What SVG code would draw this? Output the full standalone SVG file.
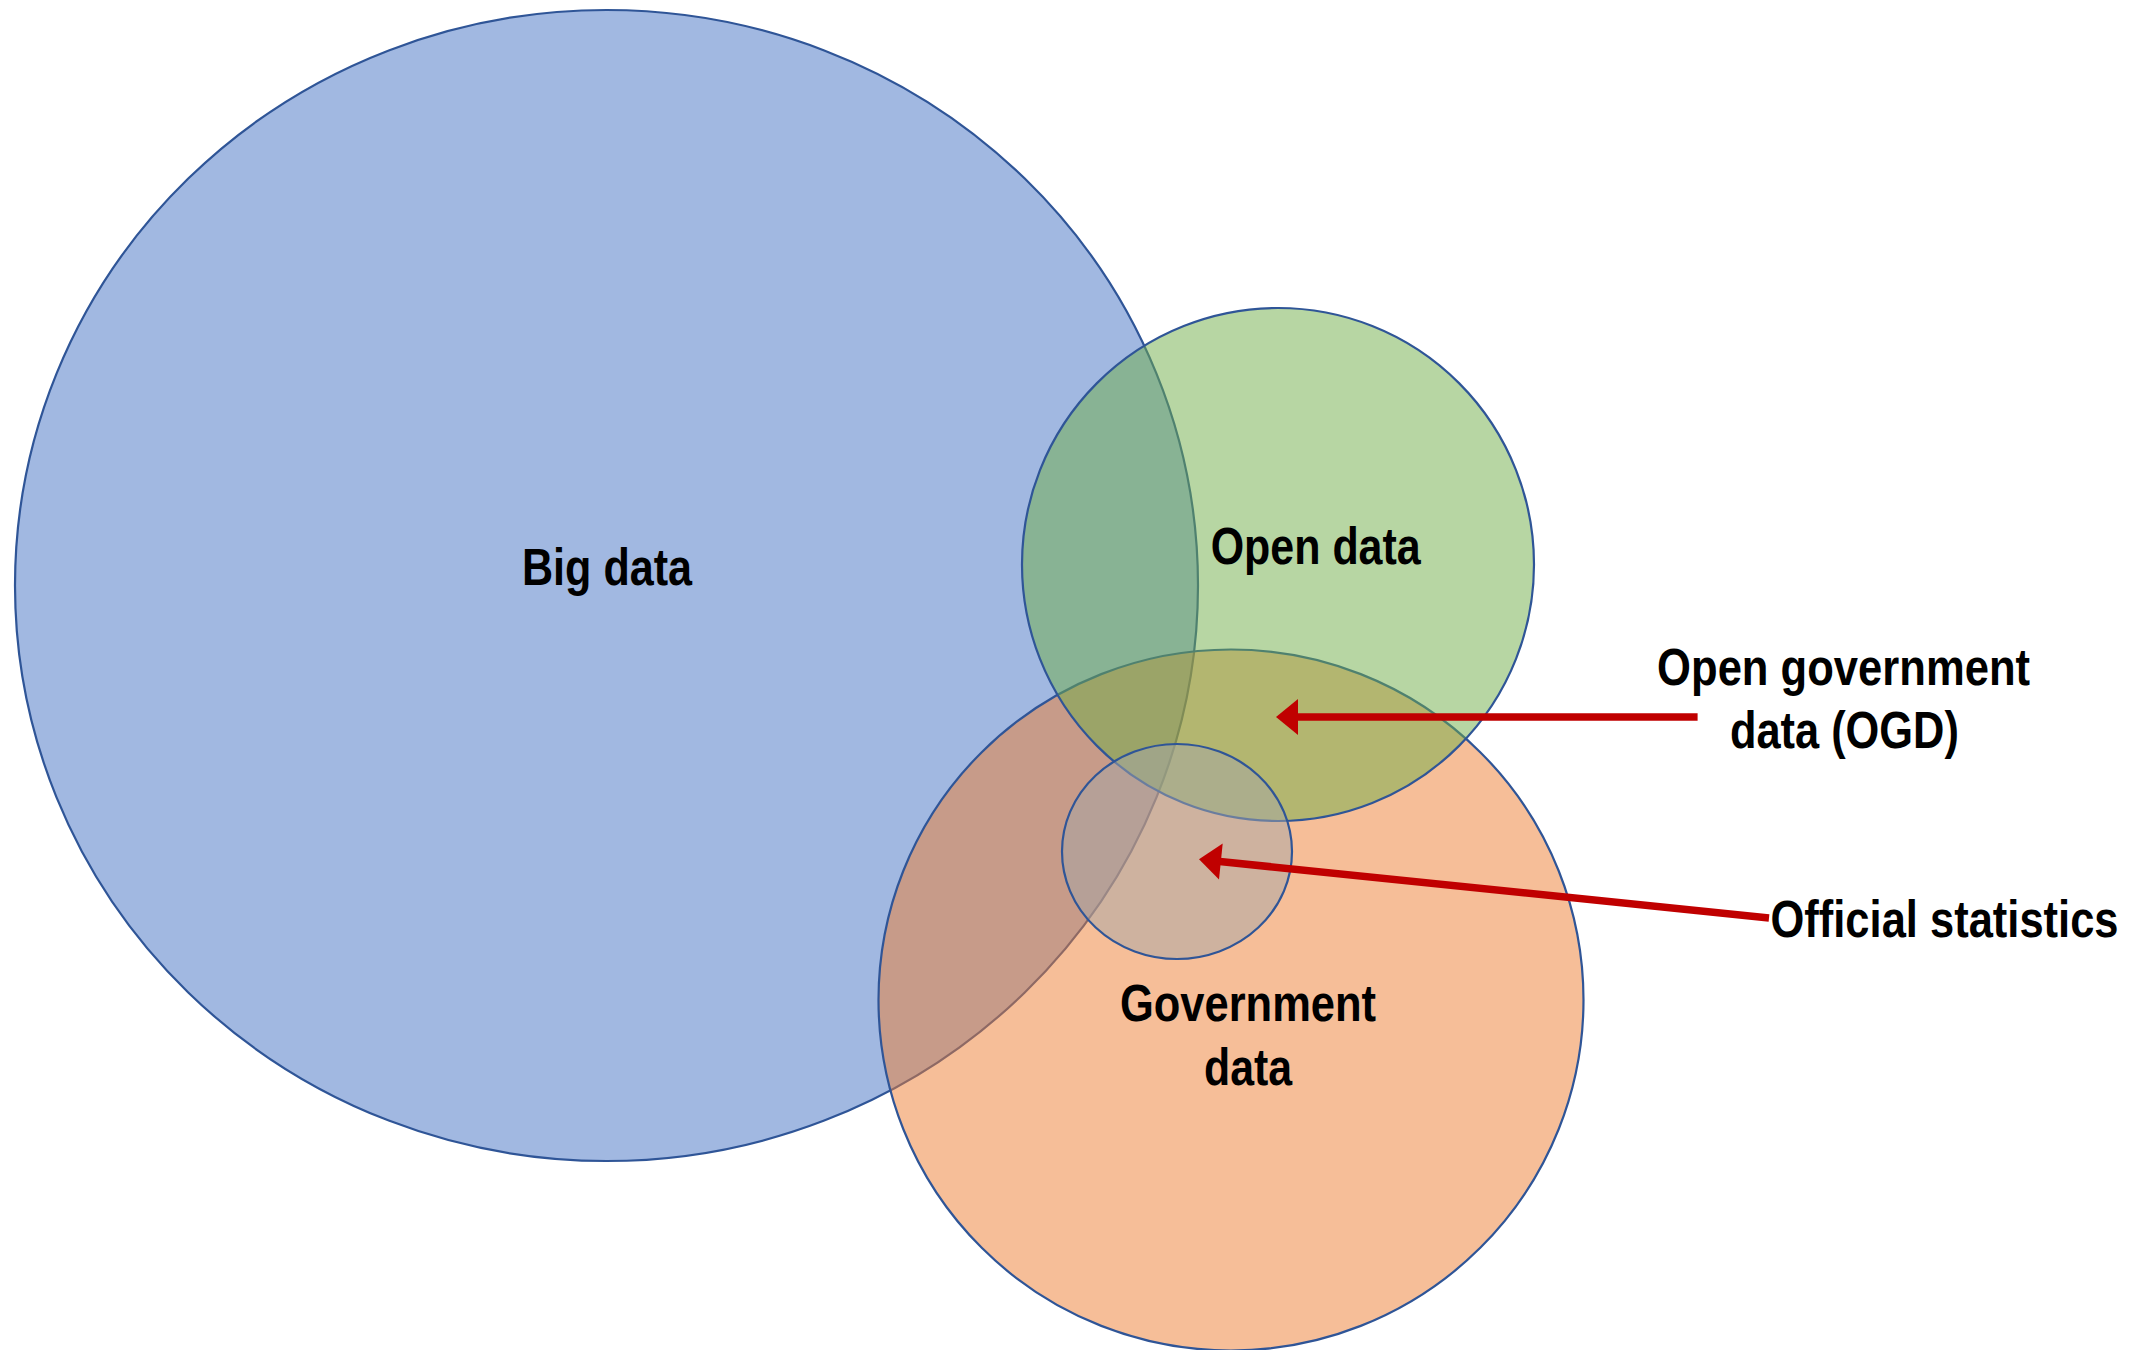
<svg xmlns="http://www.w3.org/2000/svg" width="2154" height="1350" viewBox="0 0 2154 1350">
  <style>
    .set { stroke: #2F5597; stroke-width: 2.2; }
    .big { fill: rgba(68,114,196,0.5); }
    .gov { fill: rgba(237,125,49,0.5); }
    .open { fill: rgba(112,173,71,0.5); }
    .stats { fill: rgba(165,165,165,0.5); }
    .lbl { font-family: "Liberation Sans Narrow", "Arial Narrow", "Liberation Sans", sans-serif; font-weight: bold; font-size: 52px; fill: #000; text-anchor: middle; }
    .conn { stroke: #C00000; stroke-width: 7.5; fill: none; }
    .head { fill: #C00000; }
  </style>
  <rect width="2154" height="1350" fill="#FFFFFF"/>
  <g id="big-data">
    <ellipse class="set big" cx="606.5" cy="585.5" rx="591.5" ry="575.5"/>
    <text class="lbl" x="607" y="585" textLength="170" lengthAdjust="spacingAndGlyphs">Big data</text>
  </g>
  <g id="government-data">
    <ellipse class="set gov" cx="1231" cy="1000" rx="352.5" ry="350.5"/>
    <text class="lbl" x="1248" y="1021" textLength="256" lengthAdjust="spacingAndGlyphs">Government</text>
    <text class="lbl" x="1248" y="1085" textLength="88" lengthAdjust="spacingAndGlyphs">data</text>
  </g>
  <g id="open-data">
    <ellipse class="set open" cx="1278" cy="564.5" rx="256" ry="256.5"/>
    <text class="lbl" x="1315.7" y="564.3" textLength="210" lengthAdjust="spacingAndGlyphs">Open data</text>
  </g>
  <g id="official-statistics">
    <ellipse class="set stats" cx="1177" cy="851.5" rx="115" ry="107.5"/>
  </g>
  <g id="connectors">
    <line class="conn" x1="1697.6" y1="717" x2="1292" y2="717"/>
    <polygon class="head" points="1276,717 1298,699 1298,735"/>
    <line class="conn" x1="1769" y1="918" x2="1215" y2="861"/>
    <polygon class="head" points="1199,859.3 1222.7,843.6 1219,879.5"/>
  </g>
  <g id="label-ogd">
    <text class="lbl" x="1843.6" y="685" textLength="373" lengthAdjust="spacingAndGlyphs">Open government</text>
    <text class="lbl" x="1844.4" y="748.3" textLength="229" lengthAdjust="spacingAndGlyphs">data (OGD)</text>
  </g>
  <g id="label-official-statistics">
    <text class="lbl" transform="translate(1944.5,936.7) scale(0.8365,1)" x="0" y="0" textLength="416" lengthAdjust="spacingAndGlyphs">Official statistics</text>
  </g>
</svg>
